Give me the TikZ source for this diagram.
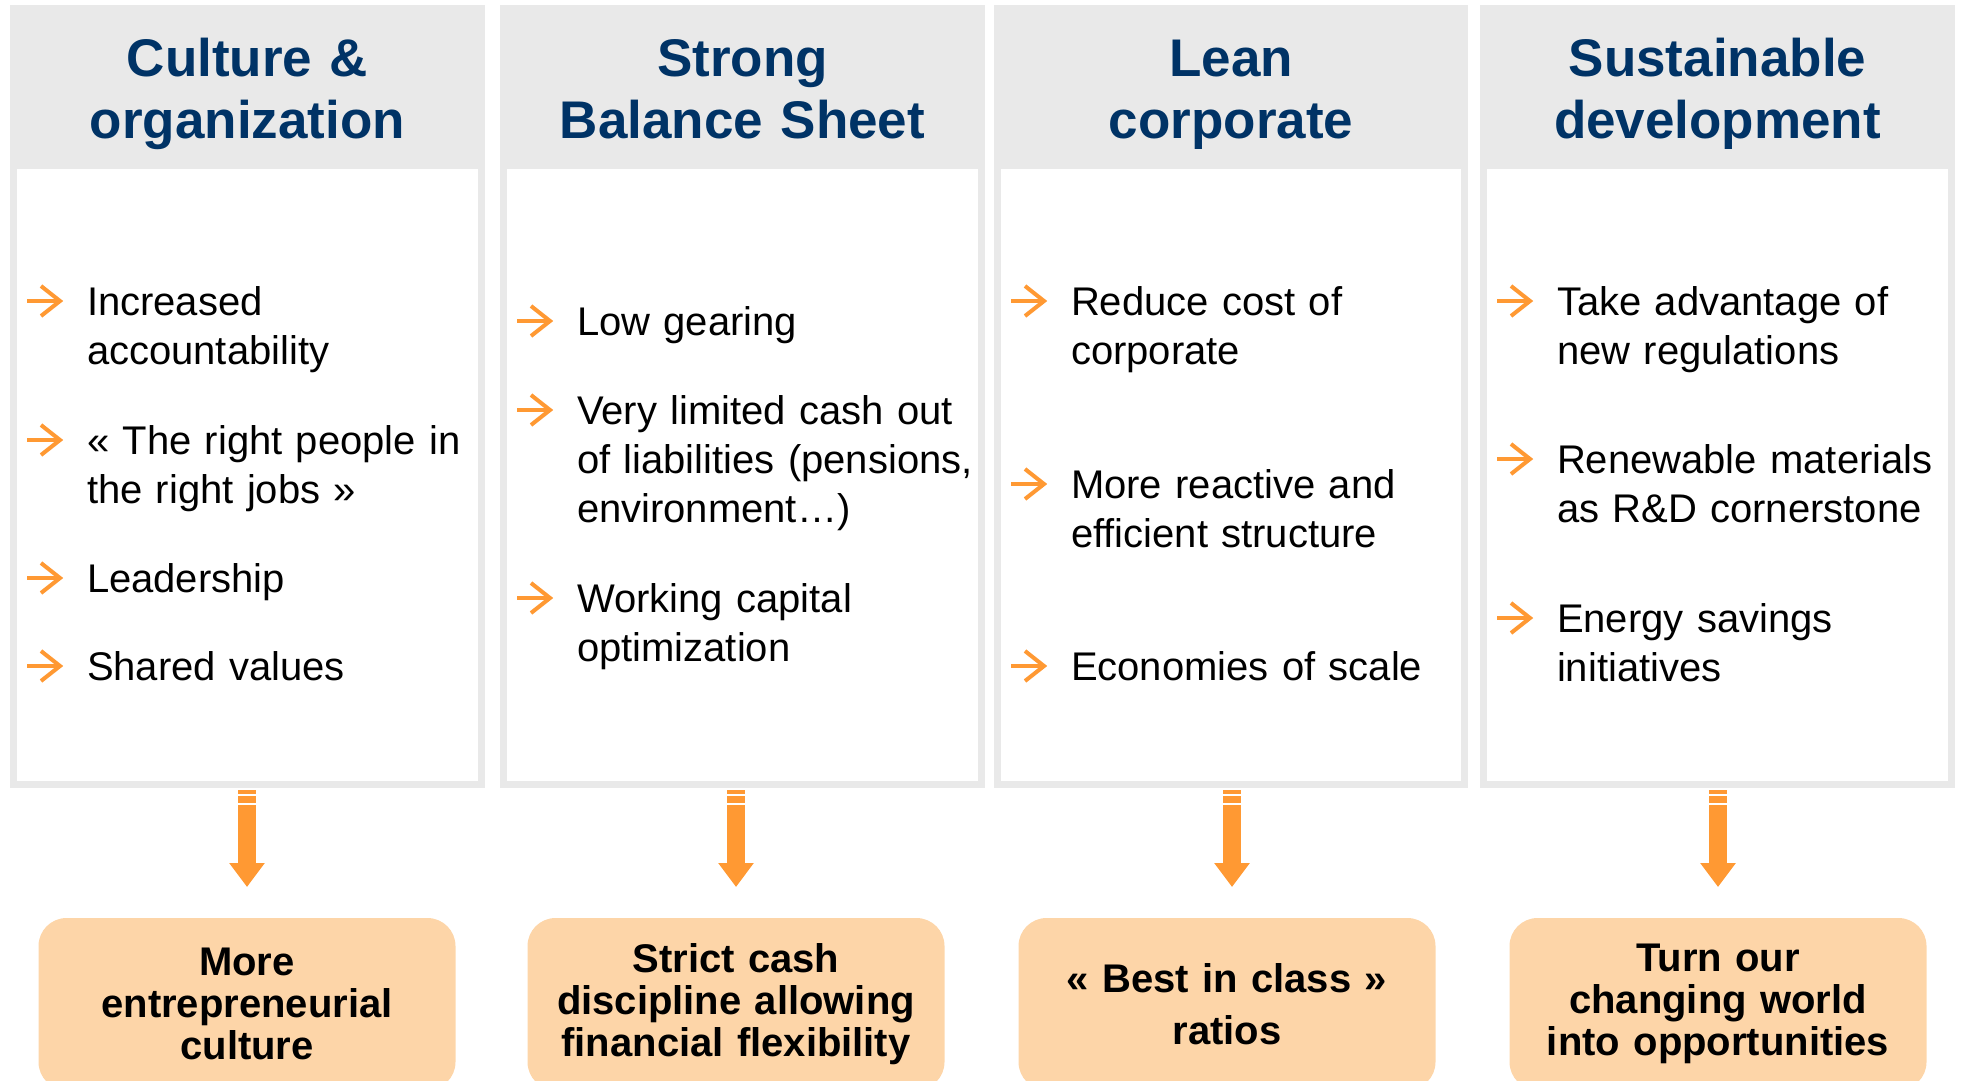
\documentclass[tikz,border=0pt]{standalone}
\usepackage{fontspec}
\setmainfont{Liberation Sans}
\usetikzlibrary{arrows.meta,calc}

\definecolor{headgray}{RGB}{233,233,233}
\definecolor{navy}{RGB}{0,51,102}
\definecolor{orng}{RGB}{255,153,51}
\definecolor{peach}{RGB}{253,213,168}

% bullet: node name, column left, baseline, text
\newcommand{\bitem}[4]{%
  \draw[bularrow] (#2+17,#3-14) -- (#2+50,#3-14);
  \draw[bularrow] (#2+31,#3-29) -- (#2+50,#3-14) -- (#2+31,#3+1);
  \node[itemtxt] (#1) at (#2+77,#3) {#4};
}

\begin{document}
\begin{tikzpicture}[x=1pt,y=-1pt]
\tikzstyle{every node}=[inner sep=0pt,outer sep=0pt]
\tikzstyle{colframe}=[fill=headgray,anchor=north west]
\tikzstyle{colbody}=[fill=white,anchor=north west]
\tikzstyle{headtxt}=[text=navy,font=\fontsize{53}{62}\selectfont\bfseries,align=center,anchor=base,text width=460pt]
\tikzstyle{itemtxt}=[font=\fontsize{40}{49}\selectfont,align=left,anchor=base west,text width=400pt]
\tikzstyle{resbox}=[fill=peach,rounded corners=28pt,anchor=north,minimum width=417pt,minimum height=172pt,font=\fontsize{40}{42}\selectfont\bfseries,align=center,text width=400pt]
\tikzstyle{bularrow}=[orng,line width=4pt]
\tikzstyle{downarrow}=[orng,line width=18pt,-{Triangle[width=34pt,length=24pt]}]

\useasboundingbox (0,0) rectangle (1961,1080);
\clip (0,0) rectangle (1961,1080);

% columns, headers, results
\foreach \i/\l/\r/\c/\b/\htxt/\rtxt in {
  1/10/485/247/247/{Culture \&\\organization}/{More\\entrepreneurial\\culture},
  2/500/985/736/736/{Strong\\Balance Sheet}/{Strict cash\\discipline allowing\\financial flexibility},
  3/994/1468/1232/1227/{Lean\\corporate}/{« Best in class »\\[10pt]ratios},
  4/1480/1955/1718/1718/{Sustainable\\development}/{Turn our\\changing world\\into opportunities}}{
  \node[colframe,minimum width={(\r-\l)*1pt},minimum height=783pt] (col\i) at (\l,5) {};
  \node[colbody,minimum width={(\r-\l-14)*1pt},minimum height=612pt] (body\i) at (\l+7,169) {};
  \node[headtxt] (head\i) at (col\i.north |- 0,76) {\htxt};
  \node[resbox] (res\i) at (\b,918) {\rtxt};
  \coordinate (top\i) at (\c,0 |- col\i.south);
  \draw[downarrow] ($(top\i)+(0,2)$) -- ($(top\i |- res\i.north)+(0,-31)$);
  \draw[white,line width=1.5pt] ($(top\i)+(-12,6.8)$) -- ++(24,0);
  \draw[white,line width=2pt] ($(top\i)+(-12,16)$) -- ++(24,0);
}

% bullets
\bitem{c1a}{10}{315}{Increased\\accountability}
\bitem{c1b}{10}{454}{« The right people in\\the right jobs »}
\bitem{c1c}{10}{592}{Leadership}
\bitem{c1d}{10}{680}{Shared values}

\bitem{c2a}{500}{335}{Low gearing}
\bitem{c2b}{500}{424}{Very limited cash out\\of liabilities (pensions,\\environment…)}
\bitem{c2c}{500}{612}{Working capital\\optimization}

\bitem{c3a}{994}{315}{Reduce cost of\\corporate}
\bitem{c3b}{994}{498}{More reactive and\\efficient structure}
\bitem{c3c}{994}{680}{Economies of scale}

\bitem{c4a}{1480}{315}{Take advantage of\\new regulations}
\bitem{c4b}{1480}{473}{Renewable materials\\as R\&D cornerstone}
\bitem{c4c}{1480}{632}{Energy savings\\initiatives}

\end{tikzpicture}
\end{document}
